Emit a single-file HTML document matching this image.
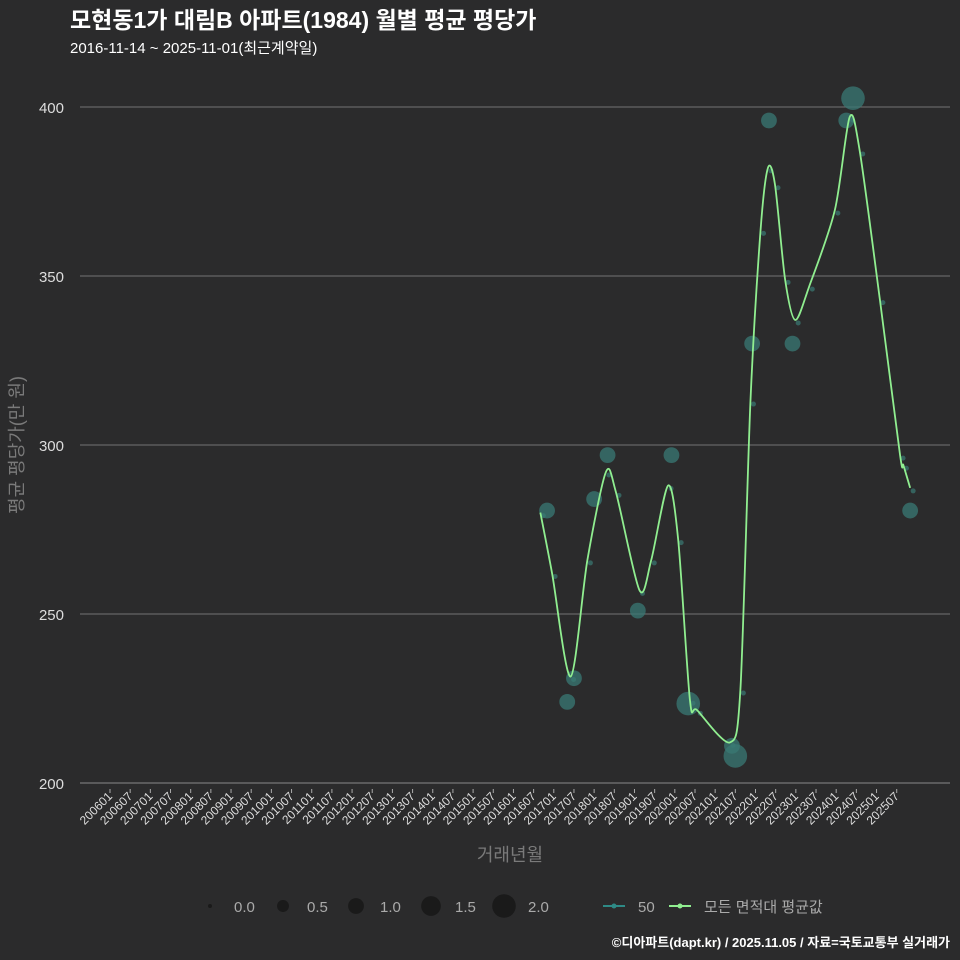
<!DOCTYPE html>
<html><head><meta charset="utf-8"><style>
body{margin:0;background:#2b2b2c;}
svg{display:block;font-family:"Liberation Sans","Noto Sans CJK KR",sans-serif;}
</style></head><body>
<svg id="c" width="960" height="960">
<rect width="960" height="960" fill="#2b2b2c"/>
<text x="70" y="28" fill="#ffffff" font-size="23" font-weight="bold">모현동1가 대림B 아파트(1984) 월별 평균 평당가</text>
<text x="70" y="53" fill="#ffffff" font-size="15">2016-11-14 ~ 2025-11-01(최근계약일)</text>
<g id="grid"></g><g id="xt"></g><g id="marks"></g>
<text transform="translate(23,445) rotate(-90)" text-anchor="middle" fill="#7a7a7a" font-size="18">평균 평당가(만 원)</text>
<text x="510" y="861" text-anchor="middle" fill="#7a7a7a" font-size="18">거래년월</text>
<g id="legend"></g>
<text x="950" y="947" text-anchor="end" fill="#ffffff" font-size="13" font-weight="bold">©디아파트(dapt.kr) / 2025.11.05 / 자료=국토교통부 실거래가</text>
</svg>
<script>
const yTicks=[200,250,300,350,400];
const tradeMonths=[130,136,138,144,148,157,167,172,185,186,191,196,203,219,221,238];
const tradeValues=[280.6,224,231,284,297,251,297,223.5,211,208,330,396,330,396,402.6,280.6];
const tradeCounts=[1,1,1,1,1,1,1,2,1,2,1,1,1,1,2,1];
const lineMonths=[128,131.5,137,142,147.5,150.5,157.5,161,166,169,172.5,174.7,184.4,187.5,190.5,193.5,195.7,197.8,200.8,203.8,208,215.6,220,223,229,235,236,238];
const lineValues=[280,262,231.5,266,292,286,257,266,288,272,224.5,221.5,212,227.5,313,363.5,382,377,349,337,347,369.5,397,387,343,297,294,287.3];
const legendSizes=[0.0,0.5,1.0,1.5,2.0];
const NS="http://www.w3.org/2000/svg";
const X=m=>110+m*3.362, Y=v=>783-(v-200)*3.38, R=c=>c<=0?2:4+c*3.9;
function el(t,a,p){const e=document.createElementNS(NS,t);for(const k in a)e.setAttribute(k,a[k]);p.appendChild(e);return e;}
const grid=document.getElementById('grid');
yTicks.forEach(v=>{
 const l=el('line',{x1:80,x2:950,y1:Y(v),y2:Y(v),stroke:v==200?'#8a8a8a':'#737373','stroke-width':1},grid);
 
 
 const t=el('text',{x:64,y:Y(v)+6,'text-anchor':'end',fill:'#dddddd','font-size':15},grid);t.textContent=v;
 
 
});
const xt=document.getElementById('xt');
for(let i=0;i<40;i++){
 const m=i*6,x=X(m),lab=(2006+Math.floor(i/2))+(i%2?'07':'01');
 const tk=el('line',{x1:x,x2:x,y1:789,y2:793,stroke:'#aaaaaa'},xt);
 
 
 const t=el('text',{transform:`translate(${x+3},${797}) rotate(-45)`,'text-anchor':'end',fill:'#dddddd','font-size':12},xt);t.textContent=lab;
 
 
}
const mk=document.getElementById('marks');
tradeMonths.forEach((m,i)=>{
 const c=el('circle',{cx:X(m),cy:Y(tradeValues[i]),r:R(tradeCounts[i]),fill:'#3a7a74','fill-opacity':0.75},mk);
 
 
});
const P=lineMonths.map((m,i)=>[X(m),Y(lineValues[i])]);
const smoothing=7;
let d=`M${P[0][0]},${P[0][1]}`;
for(let i=0;i<P.length-1;i++){const p0=P[i-1]||P[i],p1=P[i],p2=P[i+1],p3=P[i+2]||p2;
 d+=` C${p1[0]+(p2[0]-p0[0])/smoothing},${p1[1]+(p2[1]-p0[1])/smoothing} ${p2[0]-(p3[0]-p1[0])/smoothing},${p2[1]-(p3[1]-p1[1])/smoothing} ${p2[0]},${p2[1]}`;}
P.forEach(p=>{const c=el('circle',{cx:p[0]+3,cy:p[1]+3,r:2.5,fill:'#3a7a74','fill-opacity':0.7},mk);
 
 });
const ln=el('path',{d:d,fill:'none',stroke:'#90ee90','stroke-width':1.8},mk);


const lg=document.getElementById('legend');
const lx=[210,283,356,431,504];
legendSizes.forEach((s,i)=>{
 const c=el('circle',{cx:lx[i],cy:906,r:R(s*1),fill:'#1a1a1a'},lg);
 
 
 const t=el('text',{x:lx[i]+24,y:912,fill:'#aaaaaa','font-size':15},lg);t.textContent=s.toFixed(1);
 
 
});
[[614,'#2e8a86','50'],[680,'#90ee90','모든 면적대 평균값']].forEach(([x,col,lab])=>{
 const g=el('g',{},lg);
 
 
 el('line',{x1:x-11,x2:x+11,y1:906,y2:906,stroke:col,'stroke-width':2},g);
 el('circle',{cx:x,cy:906,r:2.5,fill:col},g);
 const t=el('text',{x:x+24,y:912,fill:'#aaaaaa','font-size':15},g);t.textContent=lab;
});
</script>
</body></html>
